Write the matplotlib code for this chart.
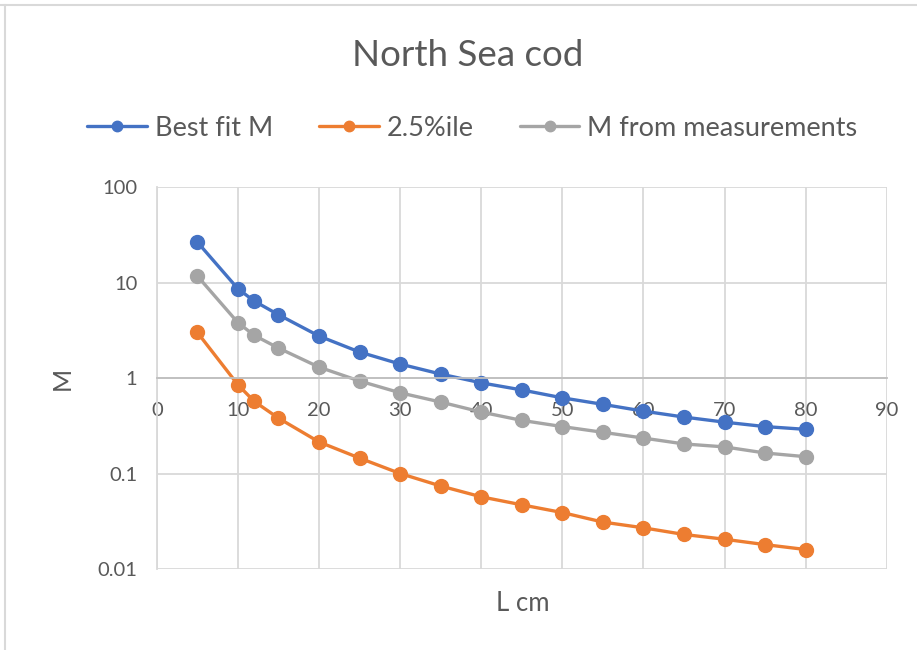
import matplotlib

matplotlib.use('Agg')

from matplotlib import pyplot as plt
from matplotlib.lines import Line2D
from matplotlib.ticker import FixedLocator, FixedFormatter

plt.rcParams['font.family'] = ['Lato', 'DejaVu Sans']

length_cm = [5, 10, 12, 15, 20, 25, 30, 35, 40, 45, 50, 55, 60, 65, 70, 75, 80]
best_fit = [26.5, 8.6, 6.4, 4.6, 2.75, 1.87, 1.4, 1.1, 0.89, 0.75, 0.62, 0.53,
            0.45, 0.39, 0.345, 0.31, 0.29]
pct_2_5 = [3.0, 0.85, 0.57, 0.38, 0.214, 0.145, 0.10, 0.074, 0.057, 0.047,
           0.039, 0.031, 0.027, 0.023, 0.0205, 0.018, 0.016]
measured = [11.7, 3.8, 2.8, 2.06, 1.3, 0.93, 0.70, 0.56, 0.44, 0.36, 0.31,
            0.27, 0.235, 0.204, 0.19, 0.164, 0.15]

y_ticks = [0.01, 0.1, 1, 10, 100]
y_labels = ['0.01', '0.1', '1', '10', '100']
x_ticks = list(range(0, 100, 10))

text_grey = '#595959'
grid_grey = '#d9d9d9'


def main():
  fig = plt.figure(figsize=(9.17, 6.5), dpi=100)
  ax = fig.add_axes([0.171, 0.1246, 0.796, 0.5877])

  style = dict(lw=2.4, marker='o', ms=10, solid_capstyle='round')
  ax.plot(length_cm, best_fit, color='#4472c4', label='Best fit M', **style)
  ax.plot(length_cm, pct_2_5, color='#ed7d31', label='2.5%ile', **style)
  ax.plot(length_cm, measured, color='#a5a5a5', label='M from measurements',
          **style)

  ax.set_yscale('log')
  ax.set_ylim(0.01, 100)
  ax.set_xlim(0, 90)
  ax.yaxis.set_major_locator(FixedLocator(y_ticks))
  ax.yaxis.set_major_formatter(FixedFormatter(y_labels))
  ax.yaxis.set_minor_locator(FixedLocator([]))
  ax.set_xticks(x_ticks)

  ax.grid(True, color=grid_grey, lw=1.3)
  ax.set_axisbelow(True)
  for side in ['top', 'right']:
    ax.spines[side].set_visible(False)
  ax.spines['left'].set_color(grid_grey)
  ax.spines['left'].set_linewidth(1.3)
  ax.spines['bottom'].set_position(('data', 1))
  ax.spines['bottom'].set_color('#bfbfbf')
  ax.spines['bottom'].set_linewidth(1.3)
  ax.tick_params(length=0, labelsize=14.5, colors=text_grey)
  ax.tick_params(axis='x', pad=17)
  ax.tick_params(axis='y', pad=14)

  fig.text(0.57, 0.072, 'L cm', ha='center', va='center', fontsize=18.5,
           color=text_grey)
  fig.text(0.068, 0.418, 'M', ha='center', va='center', fontsize=18,
           rotation=90, color=text_grey)
  fig.text(0.51, 0.915, 'North Sea cod', ha='center', va='center',
           fontsize=26.5, color=text_grey)

  leg = fig.legend(loc='center', bbox_to_anchor=(0.515, 0.803), ncol=3,
                   frameon=False, fontsize=19.5, handlelength=2.2,
                   columnspacing=1.7, handletextpad=0.3, markerscale=0.75)
  for t in leg.get_texts():
    t.set_color(text_grey)

  # chart border (only top and left edges show in the screenshot)
  fig.add_artist(Line2D([0.0, 1.0], [0.992, 0.992], transform=fig.transFigure,
                        color=grid_grey, lw=1.5))
  fig.add_artist(Line2D([0.005, 0.005], [0.0, 0.992], transform=fig.transFigure,
                        color=grid_grey, lw=1.5))

  fig.savefig('out.png', dpi=100)


if __name__ == '__main__':
  main()
